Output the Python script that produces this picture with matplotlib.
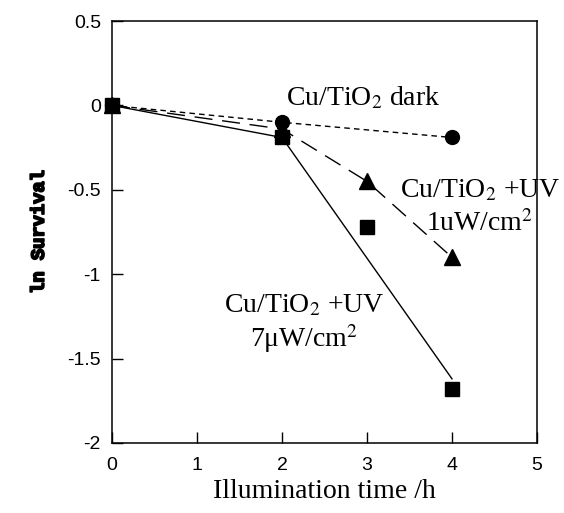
import matplotlib
matplotlib.use("Agg")
import matplotlib.pyplot as plt
import matplotlib.patheffects as pe

# survival data
dark_t = [0, 2, 4]
dark_ln = [0, -0.1, -0.19]

uv1_t = [0, 2, 3, 4]
uv1_ln = [0, -0.14, -0.45, -0.9]

uv7_t = [0, 2, 3, 4]
uv7_ln = [0, -0.19, -0.72, -1.68]
# the solid line for 7uW is a trend line, not point-to-point
uv7_line_t = [0, 2, 4]
uv7_line_ln = [0, -0.19, -1.62]

x_ticks = [0, 1, 2, 3, 4, 5]
y_ticks = [-2, -1.5, -1, -0.5, 0, 0.5]
y_labels = ["-2", "-1.5", "-1", "-0.5", "0", "0.5"]

plt.rcParams["axes.unicode_minus"] = False
plt.rcParams["mathtext.fontset"] = "stix"

serif = "Liberation Serif"
sans = "Liberation Sans"

fig = plt.figure(figsize=(5.64, 5.13), dpi=100)
ax = fig.add_axes([0.1986, 0.1365, 0.7535, 0.8225])

ax.plot(uv7_line_t, uv7_line_ln, color="k", lw=1.0)
ax.plot(uv7_t, uv7_ln, ls="none", marker="s", ms=10, color="k", clip_on=False, zorder=5)

ax.plot(uv1_t, uv1_ln, color="k", lw=1.0, ls=(0, (13, 7)), marker="^", ms=11, clip_on=False, zorder=3)

ax.plot(dark_t, dark_ln, color="k", lw=1.0, ls=(0, (4, 3)), marker="o", ms=10, clip_on=False, zorder=4)

txt = dict(family=serif, fontsize=20, color="k")
ax.text(2.05, 0.0, "Cu/TiO$_2$ dark", ha="left", va="baseline", **txt)
ax.text(4.33, -0.543, "Cu/TiO$_2$ +UV", ha="center", va="baseline", **txt)
ax.text(4.33, -0.744, "1uW/cm$^2$", ha="center", va="baseline", **txt)
ax.text(2.26, -1.225, "Cu/TiO$_2$ +UV", ha="center", va="baseline", **txt)
ax.text(2.26, -1.43, "7\u03bcW/cm$^2$", ha="center", va="baseline", **txt)

ax.set_xlim(0, 5)
ax.set_ylim(-2, 0.5)
ax.set_xticks(x_ticks)
ax.set_yticks(y_ticks)
ax.set_yticklabels(y_labels)
ax.tick_params(direction="in", length=8, width=1.0, top=False, right=False, labelsize=14)
ax.tick_params(axis="x", pad=10)
ax.tick_params(axis="y", pad=8)
for lab in ax.get_xticklabels() + ax.get_yticklabels():
    lab.set_family(sans)
for sp in ax.spines.values():
    sp.set_linewidth(1.1)

ax.set_xlabel("Illumination time /h", family=serif, fontsize=20, labelpad=4)
yl = ax.set_ylabel("ln Survival", family="Liberation Mono", fontweight="bold", fontsize=13.5, labelpad=14)
yl.set_path_effects([pe.withStroke(linewidth=1.3, foreground="k")])

fig.savefig("out.png", dpi=100)
